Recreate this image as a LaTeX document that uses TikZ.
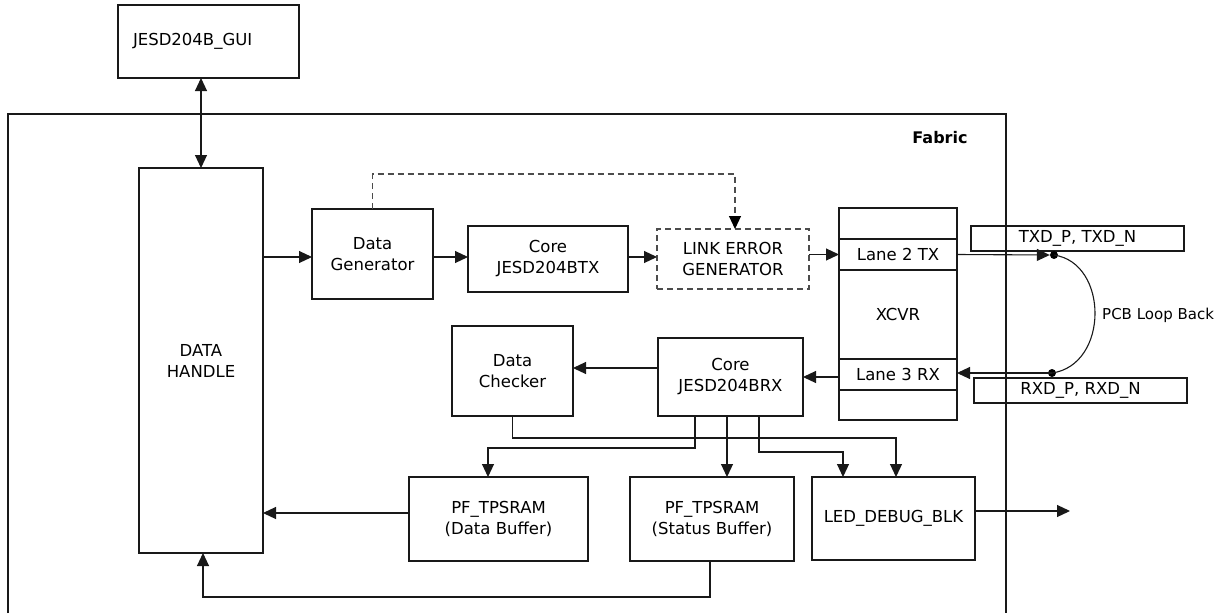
\documentclass[tikz,border=0pt]{standalone}
\usepackage{fontspec}
\setmainfont{DejaVu Sans}
\usetikzlibrary{arrows.meta}
\begin{document}
\begin{tikzpicture}[x=1pt,y=-1pt,
  box/.style={draw=black!90,line width=1.1pt,inner sep=0pt,outer sep=0pt,align=center,
    font=\fontsize{16.5}{21}\selectfont},
  dbox/.style={box,draw=black!70,dash pattern=on 6pt off 4pt},
  conn/.style={draw=black!90,line width=1.1pt},
  arr/.style={conn,-{Triangle[length=13pt,width=12pt]}},
  dbl/.style={conn,{Triangle[length=13pt,width=12pt]}-{Triangle[length=13pt,width=12pt]}},
  darr/.style={conn,draw=black!70,dash pattern=on 6pt off 4pt,-{Triangle[length=13pt,width=12pt,color=black]}},
  dot/.style={circle,fill=black,inner sep=0pt,minimum size=8pt},
  lbl/.style={inner sep=0pt,font=\fontsize{16.5}{21}\selectfont}]
\useasboundingbox (0,0) rectangle (1220,613);
% Fabric frame
\draw[conn] (8,613) -- (8,114) -- (1006,114) -- (1006,613);
\node[lbl,font=\fontsize{16}{20}\selectfont\bfseries] (fab) at (940,138) {Fabric};
% boxes
\node[box,minimum width=181pt,minimum height=73pt,text width=151pt,inner xsep=15pt,align=left] (gui) at (208.5,41.5) {JESD204B\_GUI};
\node[box,minimum width=124pt,minimum height=385pt] (dh) at (201,360.5) {DATA\\HANDLE};
\node[box,minimum width=121pt,minimum height=90pt] (dg) at (372.5,254) {Data\\Generator};
\node[box,minimum width=160pt,minimum height=66pt] (ctx) at (548,259) {Core\\JESD204BTX};
\node[dbox,minimum width=152pt,minimum height=60pt] (leg) at (733,259) {LINK ERROR\\GENERATOR};
\node[box,minimum width=118pt,minimum height=212pt] (xcvr) at (898,314) {XCVR};
\node[box,minimum width=118pt,minimum height=31pt] (l2) at (898,254.5) {Lane 2 TX};
\node[box,minimum width=118pt,minimum height=31pt] (l3) at (898,374.5) {Lane 3 RX};
\node[box,minimum width=213pt,minimum height=25pt] (txd) at (1077.5,238.5) {TXD\_P, TXD\_N};
\node[box,minimum width=213pt,minimum height=25pt] (rxd) at (1080.5,390.5) {RXD\_P, RXD\_N};
\node[box,minimum width=121pt,minimum height=90pt] (dc) at (512.5,371) {Data\\Checker};
\node[box,minimum width=145pt,minimum height=78pt] (crx) at (730.5,377) {Core\\JESD204BRX};
\node[box,minimum width=179pt,minimum height=84pt] (db) at (498.5,519) {PF\_TPSRAM\\(Data Buffer)};
\node[box,minimum width=164pt,minimum height=84pt] (sb) at (712,519) {PF\_TPSRAM\\(Status Buffer)};
\node[box,minimum width=163pt,minimum height=83pt] (led) at (893.5,518.5) {LED\_DEBUG\_BLK};
% loopback
\node[dot] (t1) at (1054,255) {};
\node[dot] (t2) at (1052,373) {};
\draw[conn] (t1.center) .. controls (1109,263) and (1109,365) .. (t2.center);
\node[lbl,anchor=west] (pcb) at (1102,315) {\fontsize{15}{18}\selectfont PCB Loop Back};
\coordinate (out) at (1070,511);
% connectors
\draw[dbl] (gui.south -| dh.north) -- (dh.north);
\draw[arr] (dh.east |- 0,257) -- (dg.west |- 0,257);
\draw[arr] (dg.east |- 0,257) -- (ctx.west |- 0,257);
\draw[arr] (ctx.east |- 0,257) -- (leg.west |- 0,257);
\draw[arr] (leg.east |- l2.west) -- (l2.west);
\draw[darr] (dg.north) -- ++(0,-35) -| ([xshift=2pt]leg.north);
\draw[arr] (l2.east) -- (t1.west);
\draw[arr] (t2.center) -- (t2 -| l3.east);
\draw[arr] (xcvr.west |- crx.east) -- (crx.east);
\draw[arr] (crx.west |- 0,368) -- (dc.east |- 0,368);
\draw[arr] (dc.south) -- ++(0,22) -| ([xshift=2.5pt]led.north);
\draw[arr] ([xshift=-35.5pt]crx.south) -- ++(0,32) -| ([xshift=-10.5pt]db.north);
\draw[arr] ([xshift=-3.5pt]crx.south) -- ([xshift=-3.5pt]crx.south |- sb.north);
\draw[arr] ([xshift=28.5pt]crx.south) -- ++(0,36) -| ([xshift=-50.5pt]led.north);
\draw[arr] ([yshift=6pt]db.west) -- ([yshift=6pt]db.west -| dh.east);
\draw[arr] ([xshift=-2pt]sb.south) -- ++(0,36) -| ([xshift=2pt]dh.south);
\draw[arr] (led.east |- out) -- (out);
\end{tikzpicture}
\end{document}
